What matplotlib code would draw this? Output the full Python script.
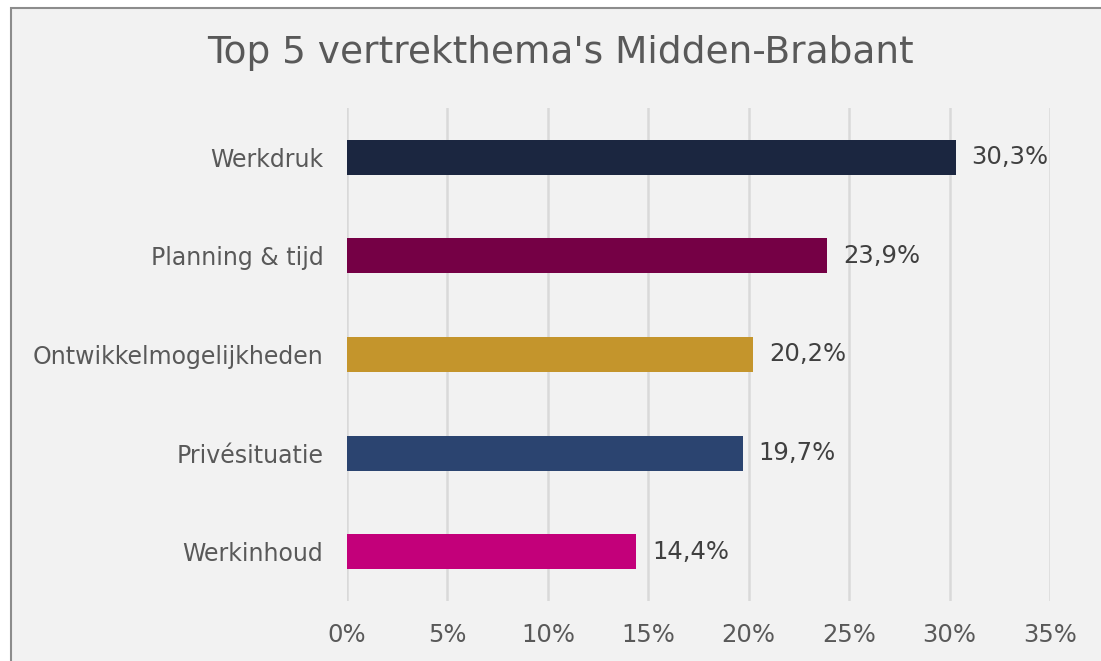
import matplotlib.pyplot as plt
from matplotlib.patches import Rectangle

categories = ["Werkdruk", "Planning & tijd", "Ontwikkelmogelijkheden", "Privésituatie", "Werkinhoud"]
values = [30.3, 23.9, 20.2, 19.7, 14.4]
colors = ["#1b2640", "#750045", "#c4952c", "#2b4470", "#c3007a"]
xticks = [0, 5, 10, 15, 20, 25, 30, 35]

W, H = 1101, 661
fig = plt.figure(figsize=(W / 100, H / 100), dpi=100, facecolor="white")

# chart area panel with grey border (runs off the right and bottom edge)
panel = Rectangle((11 / W, -0.05), 1.1, 1 - 8 / H + 0.05, transform=fig.transFigure,
                  facecolor="#f2f2f2", edgecolor="#8c8c8c", linewidth=1.5, zorder=-10)
fig.patches.append(panel)

ax = fig.add_axes([347 / W, 1 - 601 / H, (1050 - 347) / W, (601 - 108) / H])
ax.set_facecolor("none")

ypos = list(range(len(categories)))
ax.barh(ypos, values, height=0.355, color=colors, zorder=3)
for y, v in zip(ypos, values):
    ax.text(v + 0.8, y, f"{v:.1f}%".replace(".", ","), va="center", ha="left",
            fontsize=17.5, color="#404040", zorder=4)

ax.set_xlim(0, 35)
ax.set_ylim(len(categories) - 0.5, -0.5)
ax.set_yticks(ypos)
ax.set_yticklabels(categories)
ax.set_xticks(xticks)
ax.set_xticklabels([f"{t}%" for t in xticks])
ax.tick_params(axis="both", length=0, labelcolor="#595959")
ax.tick_params(axis="y", pad=17, labelsize=17)
ax.tick_params(axis="x", pad=16, labelsize=17.5)
ax.grid(axis="x", color="#d9d9d9", linewidth=1.8, zorder=1)
ax.set_axisbelow(True)
for s in ax.spines.values():
    s.set_visible(False)

fig.text(560 / W, 1 - 53 / H, "Top 5 vertrekthema's Midden-Brabant", ha="center", va="center",
         fontsize=27, color="#595959")

fig.savefig("out.png", dpi=100, facecolor="white")
